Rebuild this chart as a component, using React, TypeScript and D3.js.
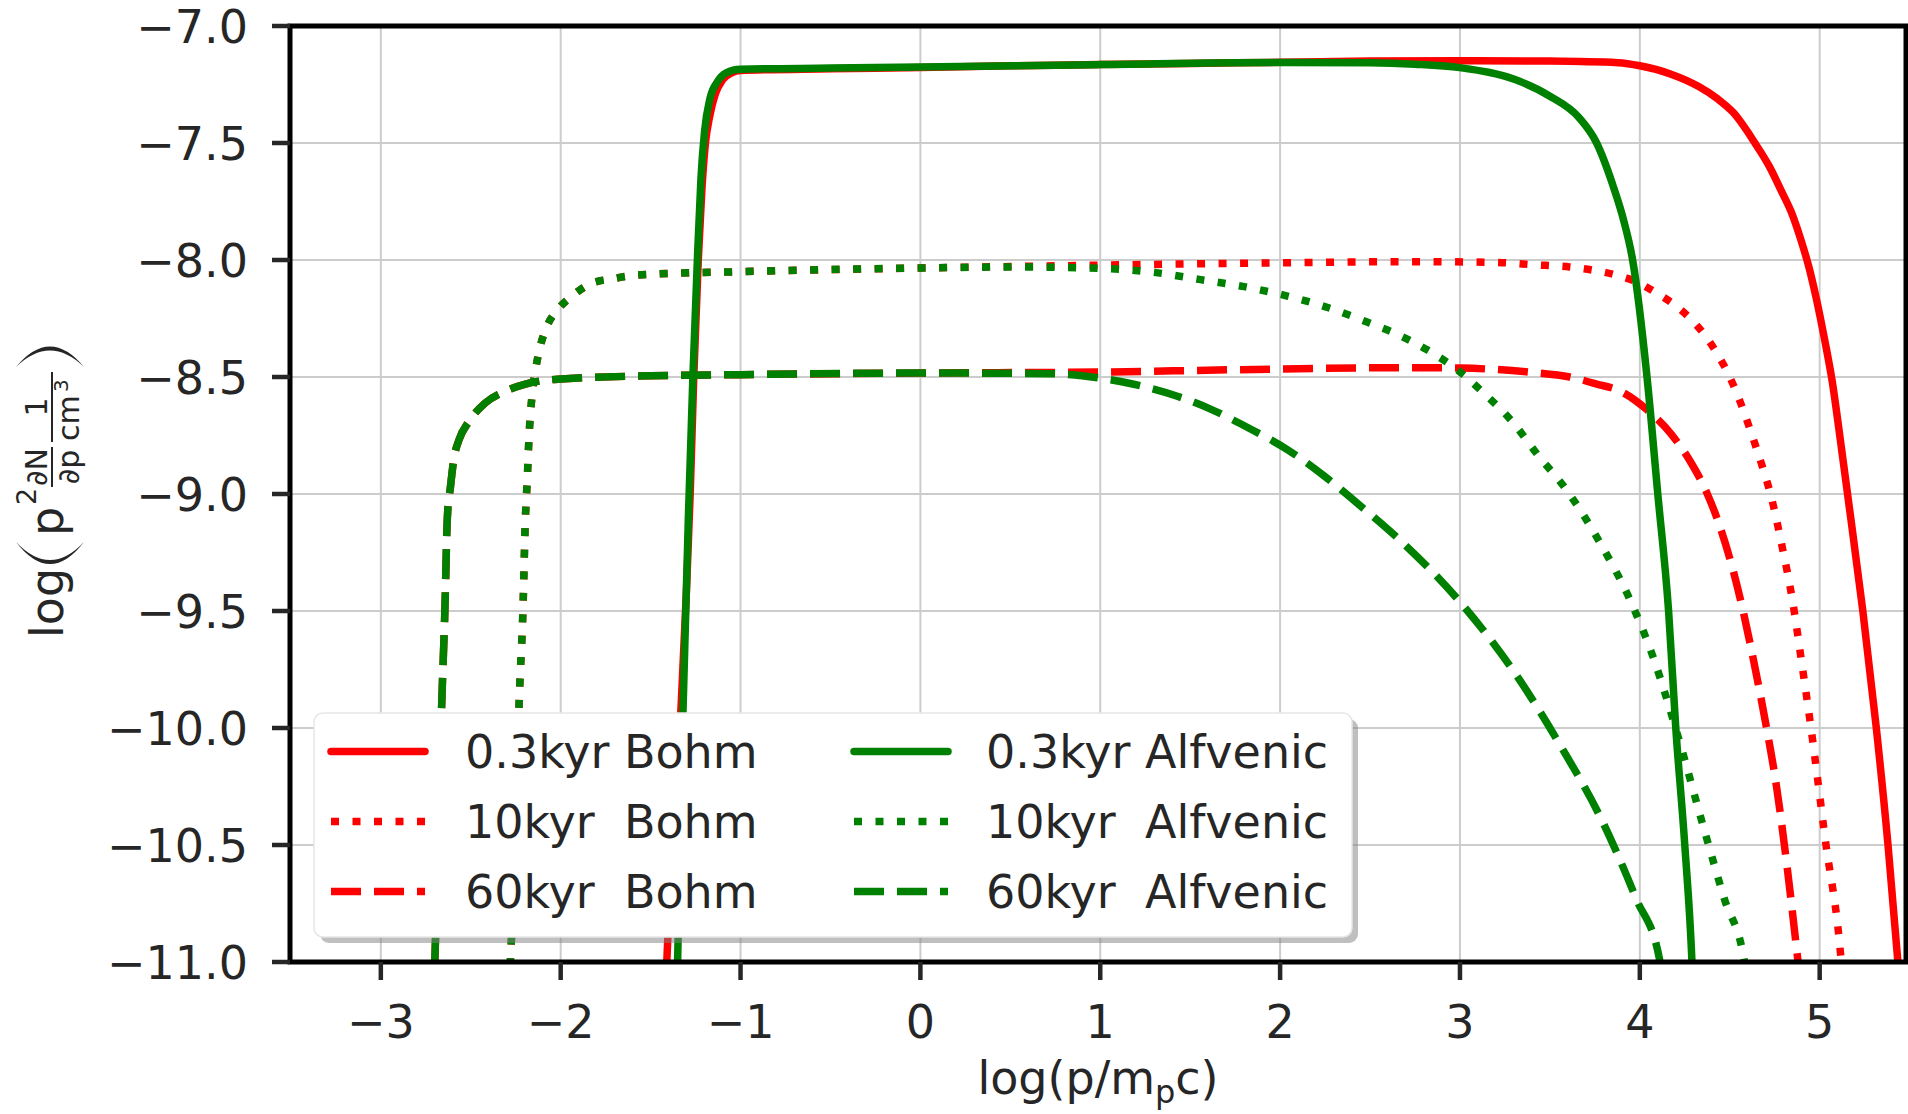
import { useEffect } from "react";
import * as d3 from "d3";

const W = 1908;
const H = 1114;
const plot = { left: 290, right: 1906, top: 26, bottom: 962 };

const xTicks = [-3, -2, -1, 0, 1, 2, 3, 4, 5];
const yTicks = [-7.0, -7.5, -8.0, -8.5, -9.0, -9.5, -10.0, -10.5, -11.0];

// [log(p/mpc), log(p^2 dN/dp)]
const bohm03 = [
  [-1.42, -11.2], [-1.41, -11.0], [-1.37, -10.4], [-1.33, -9.9], [-1.30, -9.4], [-1.28, -9.0],
  [-1.26, -8.5], [-1.235, -8.0], [-1.215, -7.7], [-1.195, -7.5], [-1.17, -7.38], [-1.14, -7.29],
  [-1.10, -7.23], [-1.05, -7.2], [-1.0, -7.19], [-0.5, -7.183], [0, -7.177], [0.5, -7.17],
  [1, -7.165], [1.5, -7.16], [2, -7.155], [2.5, -7.15], [3, -7.148], [3.5, -7.15], [3.88, -7.157],
  [4.0, -7.17], [4.17, -7.205], [4.33, -7.26], [4.43, -7.31], [4.52, -7.37], [4.64, -7.5],
  [4.72, -7.6], [4.79, -7.71], [4.85, -7.81], [4.89, -7.9], [4.94, -8.03], [4.98, -8.16],
  [5.03, -8.35], [5.07, -8.52], [5.11, -8.74], [5.155, -9.0], [5.24, -9.5], [5.315, -10.0],
  [5.38, -10.5], [5.435, -11.0], [5.455, -11.2],
];
const bohm10 = [
  [-2.30, -11.2], [-2.28, -11.0], [-2.25, -10.4], [-2.23, -9.87], [-2.21, -9.5], [-2.196, -9.1],
  [-2.186, -8.94], [-2.177, -8.77], [-2.158, -8.57], [-2.14, -8.47], [-2.117, -8.38], [-2.08, -8.29],
  [-2.014, -8.21], [-1.93, -8.15], [-1.83, -8.10], [-1.71, -8.08], [-1.6, -8.066], [-1.47, -8.06],
  [-1.0, -8.05], [0, -8.034], [0.5, -8.028], [1, -8.022], [2, -8.012], [2.7, -8.007], [3.2, -8.01],
  [3.4, -8.02], [3.61, -8.03], [3.75, -8.045], [3.87, -8.065], [4.0, -8.1], [4.09, -8.14],
  [4.19, -8.19], [4.28, -8.25], [4.36, -8.32], [4.43, -8.4], [4.5, -8.5], [4.56, -8.61],
  [4.62, -8.74], [4.68, -8.88], [4.73, -9.01], [4.79, -9.22], [4.85, -9.46], [4.9, -9.72],
  [4.95, -9.99], [5.03, -10.47], [5.12, -11.0], [5.14, -11.2],
];
const bohm60 = [
  [-2.72, -11.2], [-2.70, -11.0], [-2.68, -10.4], [-2.662, -9.91], [-2.644, -9.5], [-2.63, -9.1],
  [-2.613, -8.97], [-2.594, -8.85], [-2.566, -8.77], [-2.51, -8.69], [-2.418, -8.61], [-2.307, -8.56],
  [-2.196, -8.53], [-1.973, -8.507], [-1.5, -8.495], [-1.0, -8.49], [0, -8.483], [1.0, -8.479],
  [1.74, -8.469], [2.67, -8.46], [3.0, -8.462], [3.4, -8.48], [3.61, -8.5], [3.76, -8.53],
  [3.89, -8.56], [4.04, -8.64], [4.17, -8.74], [4.28, -8.86], [4.37, -8.99], [4.45, -9.15],
  [4.52, -9.33], [4.58, -9.52], [4.64, -9.74], [4.7, -9.98], [4.76, -10.25], [4.82, -10.6],
  [4.88, -11.0], [4.91, -11.2],
];
const alf03 = [
  [-1.36, -11.2], [-1.35, -11.0], [-1.32, -9.93], [-1.29, -9.1], [-1.265, -8.5], [-1.24, -8.0],
  [-1.22, -7.65], [-1.2, -7.45], [-1.17, -7.31], [-1.13, -7.24], [-1.08, -7.2], [-1.0, -7.185],
  [-0.5, -7.18], [0, -7.175], [1, -7.165], [2, -7.156], [2.5, -7.157], [2.75, -7.163], [3.0, -7.178],
  [3.31, -7.23], [3.5, -7.3], [3.66, -7.39], [3.76, -7.5], [3.85, -7.68], [3.91, -7.83], [3.96, -8.0],
  [4.04, -8.5], [4.10, -9.0], [4.16, -9.5], [4.20, -10.0], [4.25, -10.5], [4.29, -11.0], [4.30, -11.2],
];
const alf10 = [
  [-2.30, -11.2], [-2.28, -11.0], [-2.25, -10.4], [-2.23, -9.87], [-2.21, -9.5], [-2.196, -9.1],
  [-2.186, -8.94], [-2.177, -8.77], [-2.158, -8.57], [-2.14, -8.47], [-2.117, -8.38], [-2.08, -8.29],
  [-2.014, -8.21], [-1.93, -8.15], [-1.83, -8.10], [-1.71, -8.08], [-1.6, -8.066], [-1.47, -8.06],
  [-1.0, -8.05], [0, -8.034], [0.5, -8.03], [1.0, -8.036], [1.31, -8.054], [1.55, -8.083],
  [1.80, -8.114], [2.04, -8.154], [2.28, -8.207], [2.5, -8.27], [2.63, -8.31], [2.82, -8.385],
  [2.97, -8.46], [3.12, -8.56], [3.29, -8.69], [3.44, -8.84], [3.59, -8.98], [3.78, -9.21],
  [3.95, -9.46], [4.08, -9.71], [4.21, -10.03], [4.36, -10.44], [4.47, -10.73], [4.58, -10.99],
  [4.62, -11.2],
];
const alf60 = [
  [-2.72, -11.2], [-2.70, -11.0], [-2.68, -10.4], [-2.662, -9.91], [-2.644, -9.5], [-2.63, -9.1],
  [-2.613, -8.97], [-2.594, -8.85], [-2.566, -8.77], [-2.51, -8.69], [-2.418, -8.61], [-2.307, -8.56],
  [-2.196, -8.53], [-1.973, -8.507], [-1.5, -8.495], [-1.0, -8.49], [0, -8.483], [0.72, -8.486],
  [1.0, -8.505], [1.18, -8.53], [1.42, -8.58], [1.61, -8.636], [1.83, -8.72], [2.04, -8.81],
  [2.24, -8.92], [2.43, -9.04], [2.67, -9.2], [3.01, -9.47], [3.31, -9.77], [3.57, -10.09],
  [3.78, -10.38], [3.98, -10.73], [4.11, -10.99], [4.15, -11.2],
];

const labels = ["0.3kyr Bohm", "10kyr  Bohm", "60kyr  Bohm", "0.3kyr Alfvenic", "10kyr  Alfvenic", "60kyr  Alfvenic"];

const LW = 7.5;
const DOT = "8,13.5";
const DASH = "30,13";
const INK = "#262626";
const FONT = "DejaVu Sans, sans-serif";

const series = [
  { pts: bohm03, color: "red", dash: undefined },
  { pts: bohm10, color: "red", dash: DOT },
  { pts: bohm60, color: "red", dash: DASH },
  { pts: alf03, color: "green", dash: undefined },
  { pts: alf10, color: "green", dash: DOT },
  { pts: alf60, color: "green", dash: DASH },
].map((s, i) => ({ ...s, label: labels[i] }));

export default function App() {
  useEffect(() => {
    document.body.style.margin = "0";
  }, []);

  const x = d3.scaleLinear().domain([-3.505, 5.48]).range([plot.left, plot.right]);
  const y = d3.scaleLinear().domain([-11, -7]).range([plot.bottom, plot.top]);

  const line = d3
    .line<number[]>()
    .x((d) => x(d[0]))
    .y((d) => y(d[1]))
    .curve(d3.curveMonotoneX);

  const fmtY = (v: number) => (v < 0 ? "\u2212" : "") + Math.abs(v).toFixed(1);
  const fmtX = (v: number) => (v < 0 ? "\u2212" : "") + Math.abs(v);

  // legend layout
  const lg = { x0: 314, y0: 713, x1: 1352, y1: 937 };
  const rowBase = [768, 838, 908];
  const colHandle = [331, 854];
  const colText = [465, 986];

  return (
    <svg
      width={W}
      height={H}
      style={{ position: "absolute", left: 0, top: 0, background: "white" }}
      fontFamily={FONT}
    >
      <defs>
        <clipPath id="plotclip">
          <rect x={plot.left} y={plot.top} width={plot.right - plot.left} height={plot.bottom - plot.top} />
        </clipPath>
      </defs>
      <rect width={W} height={H} fill="white" />

      {/* grid */}
      <g stroke="#cccccc" strokeWidth={2}>
        {xTicks.map((t) => (
          <line key={"gx" + t} x1={x(t)} x2={x(t)} y1={plot.top} y2={plot.bottom} />
        ))}
        {yTicks.map((t) => (
          <line key={"gy" + t} x1={plot.left} x2={plot.right} y1={y(t)} y2={y(t)} />
        ))}
      </g>

      {/* curves */}
      <g clipPath="url(#plotclip)" fill="none">
        {series.map((s) => (
          <path
            key={s.label}
            d={line(s.pts) || ""}
            stroke={s.color}
            strokeWidth={LW}
            strokeDasharray={s.dash}
            strokeLinecap="butt"
            strokeLinejoin="round"
          />
        ))}
      </g>

      {/* spines */}
      <rect
        x={plot.left}
        y={plot.top}
        width={plot.right - plot.left}
        height={plot.bottom - plot.top}
        fill="none"
        stroke="#000"
        strokeWidth={5}
      />

      {/* y ticks */}
      <g>
        {yTicks.map((t) => (
          <g key={"ty" + t}>
            <line x1={plot.left - 18} x2={plot.left} y1={y(t)} y2={y(t)} stroke={INK} strokeWidth={4.5} />
            <text x={plot.left - 42} y={y(t) + 16.5} textAnchor="end" fontSize={46} fill={INK}>
              {fmtY(t)}
            </text>
          </g>
        ))}
      </g>

      {/* x ticks */}
      <g>
        {xTicks.map((t) => (
          <g key={"tx" + t}>
            <line x1={x(t)} x2={x(t)} y1={plot.bottom} y2={plot.bottom + 18} stroke={INK} strokeWidth={4.5} />
            <text x={x(t)} y={1038} textAnchor="middle" fontSize={46} fill={INK}>
              {fmtX(t)}
            </text>
          </g>
        ))}
      </g>

      {/* x label */}
      <text x={(plot.left + plot.right) / 2} y={1094} textAnchor="middle" fontSize={46} fill={INK}>
        <tspan>log(p/m</tspan>
        <tspan fontSize={32} dy={9}>p</tspan>
        <tspan dy={-9}>c)</tspan>
      </text>

      {/* y label */}
      <g transform="translate(63,492) rotate(-90)" fill={INK}>
        <text x={-146} y={0} fontSize={46}>log</text>
        <path d="M -50 -47 Q -94 -13 -50 21 Q -86 -13 -50 -47 Z" />
        <text x={-44} y={0} fontSize={46}>p</text>
        <text x={-13} y={-27} fontSize={27}>2</text>
        <text x={25} y={-16} fontSize={30} textAnchor="middle">∂N</text>
        <line x1={5} x2={45} y1={-11} y2={-11} stroke={INK} strokeWidth={2} />
        <text x={25} y={16} fontSize={30} textAnchor="middle">∂p</text>
        <text x={85} y={-16} fontSize={30} textAnchor="middle">1</text>
        <line x1={50} x2={120} y1={-11} y2={-11} stroke={INK} strokeWidth={2} />
        <text x={51} y={16} fontSize={30}>cm</text>
        <text x={100} y={5} fontSize={20}>3</text>
        <path d="M 125 -47 Q 166 -13 125 21 Q 158 -13 125 -47 Z" />
      </g>

      {/* legend */}
      <g>
        <rect
          x={lg.x0 + 6}
          y={lg.y0 + 6}
          width={lg.x1 - lg.x0}
          height={lg.y1 - lg.y0}
          rx={9}
          fill="#808080"
          opacity={0.5}
        />
        <rect
          x={lg.x0}
          y={lg.y0}
          width={lg.x1 - lg.x0}
          height={lg.y1 - lg.y0}
          rx={9}
          fill="white"
          stroke="#e6e6e6"
          strokeWidth={1.5}
        />
        {series.map((s, i) => {
          const col = Math.floor(i / 3);
          const row = i % 3;
          const by = rowBase[row];
          return (
            <g key={"lg" + i}>
              <line
                x1={colHandle[col]}
                x2={colHandle[col] + 94}
                y1={by - 16.5}
                y2={by - 16.5}
                stroke={s.color}
                strokeWidth={LW}
                strokeDasharray={s.dash}
                strokeLinecap={s.dash ? "butt" : "round"}
              />
              <text x={colText[col]} y={by} fontSize={46} fill={INK} style={{ whiteSpace: "pre" }}>
                {s.label}
              </text>
            </g>
          );
        })}
      </g>
    </svg>
  );
}
